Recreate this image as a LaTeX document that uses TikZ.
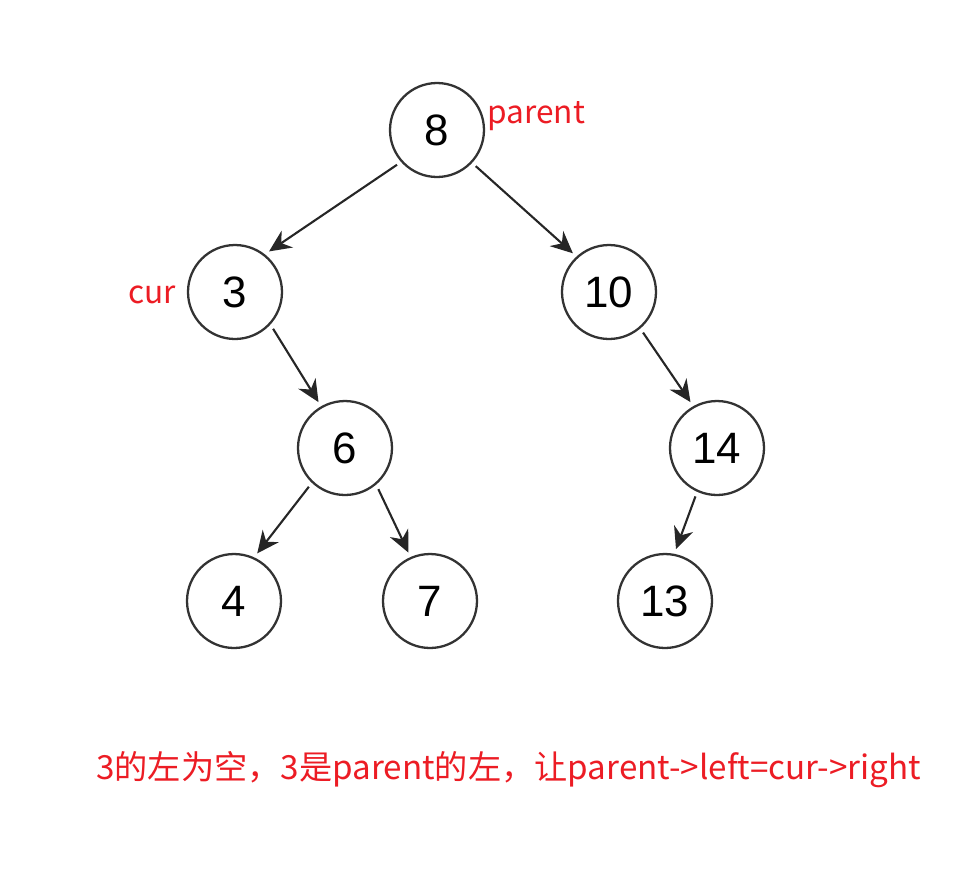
\documentclass[tikz,border=0pt]{standalone}
\usepackage{fontspec}
\setmainfont{Liberation Sans}
\newfontfamily\cjk{Noto Sans CJK SC}
\usetikzlibrary{arrows.meta}

\definecolor{labelred}{RGB}{236,28,36}

\begin{document}
\begin{tikzpicture}[x = 0.02cm, y = -0.02cm,
    treenode/.style = {circle, draw = black!80, line width = 1.3pt, minimum size = 1.88cm, inner sep = 0pt, outer sep = 3.4pt, font = \fontsize{25}{28}\selectfont},
    edge/.style = {-{Stealth[length = 12.5pt, width = 11.5pt]}, line width = 1.2pt, black!85},
    redlabel/.style = {text = labelred, font = \cjk\fontsize{18}{22}\selectfont, inner sep = 0pt, anchor = base west}]
    \useasboundingbox (0, 0) rectangle (968, 877);

    \node[treenode] (n8) at (437, 130) {8};
    \node[treenode] (n3) at (235, 292) {3};
    \node[treenode] (n10) at (609, 292) {10};
    \node[treenode] (n6) at (345, 448) {6};
    \node[treenode] (n14) at (717, 448) {14};
    \node[treenode] (n4) at (234, 601) {4};
    \node[treenode] (n7) at (430, 601) {7};
    \node[treenode] (n13) at (665, 601) {13};

    \draw[edge] (n8.221) -- (n3.50);
    \draw[edge] (n8.317) -- (n10.133);
    \draw[edge] (n3.316) -- (n6.120);
    \draw[edge] (n10.310) -- (n14.120);
    \draw[edge] (n6.227) -- (n4.64);
    \draw[edge] (n6.309) -- (n7.114);
    \draw[edge] (n14.246) -- (n13.78);

    \node[redlabel] (lparent) at (487, 123) {parent};
    \node[redlabel] (lcur) at (128, 303) {cur};
    \node[redlabel, font = \cjk\fontsize{18.9}{22}\selectfont] (lnote) at (96, 779) {3的左为空，3是parent的左，让parent->left=cur->right};
  \end{tikzpicture}
\end{document}
